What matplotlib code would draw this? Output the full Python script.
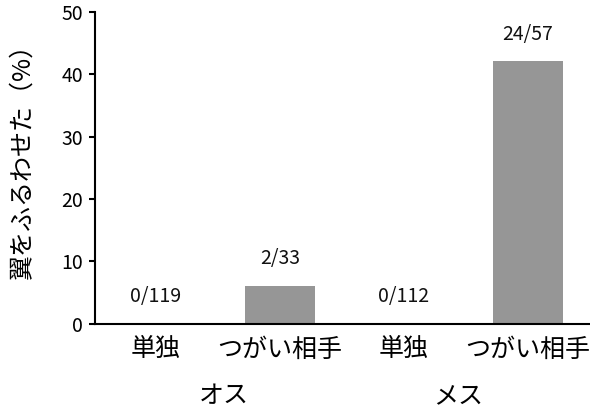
import matplotlib
matplotlib.use("Agg")
import matplotlib.pyplot as plt
import matplotlib.transforms as mtransforms

plt.rcParams['font.family'] = ['Noto Sans CJK JP', 'DejaVu Sans']

categories = ['単独', 'つがい相手', '単独', 'つがい相手']
groups = ['オス', 'メス']
values = [0, 2 / 33 * 100, 0, 24 / 57 * 100]
counts = ['0/119', '2/33', '0/112', '24/57']
yticks = [0, 10, 20, 30, 40, 50]
ylabel = '翼をふるわせた（%）'

fig = plt.figure(figsize=(5.9, 4.11), dpi=100)
ax = fig.add_axes([0.161, 0.212, 0.839, 0.759])

x = list(range(len(categories)))
ax.bar(x, values, width=0.56, color='#969696', zorder=2)

for xi, v, c in zip(x, values, counts):
    ax.annotate(c, xy=(xi, v), xytext=(0, 19.5), textcoords='offset points',
                ha='center', va='center', fontsize=14, color='#111111')

ax.set_xlim(-0.49, 3.5)
ax.set_ylim(0, 50)
ax.set_yticks(yticks)
ax.set_xticks(x)
ax.set_xticklabels(categories, fontsize=18)
ax.tick_params(axis='x', length=0, pad=9)
ax.tick_params(axis='y', length=4.5, width=1.5, labelsize=14, pad=4)

for s in ['top', 'right']:
    ax.spines[s].set_visible(False)
for s in ['left', 'bottom']:
    ax.spines[s].set_linewidth(1.5)

trans = mtransforms.blended_transform_factory(ax.transData, ax.transAxes)
group_pos = [0.55, 2.44]
for gp, g in zip(group_pos, groups):
    ax.text(gp, -0.233, g, transform=trans, ha='center', va='center', fontsize=18)

ax.set_ylabel(ylabel, fontsize=18)
ax.yaxis.set_label_coords(-0.121, 0.54)

fig.savefig('out.png', dpi=100)
